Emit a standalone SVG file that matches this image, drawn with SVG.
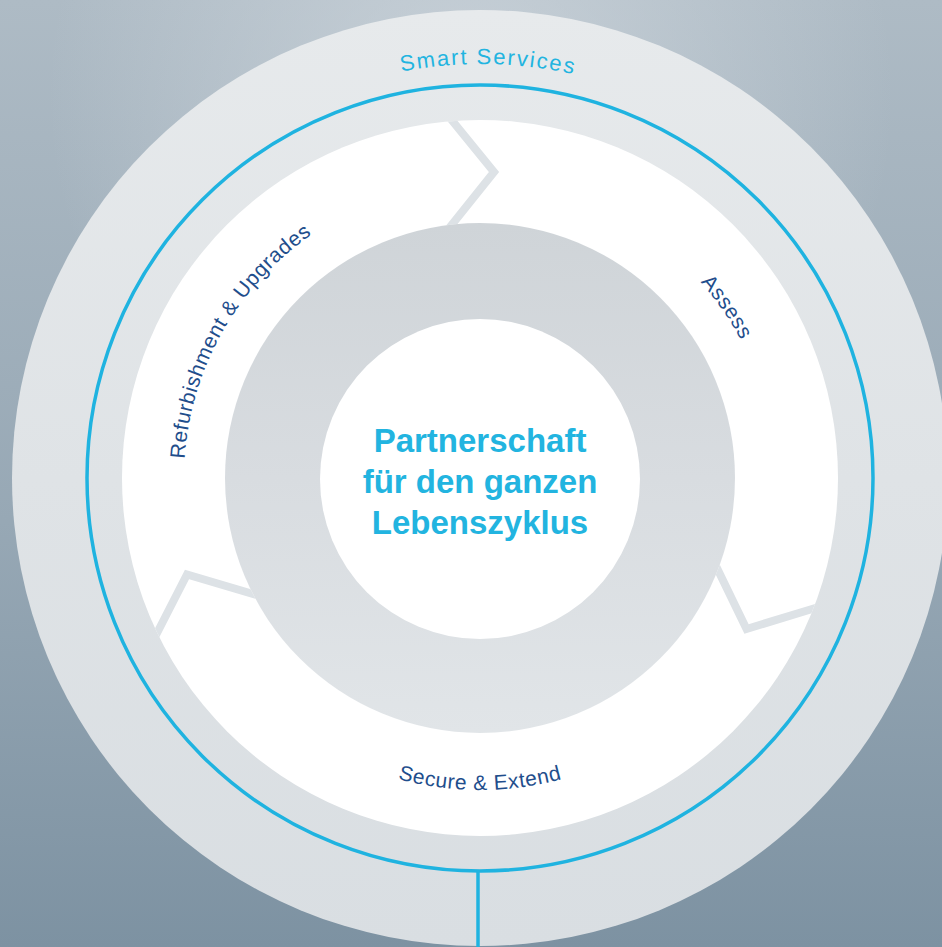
<svg xmlns="http://www.w3.org/2000/svg" width="942" height="947" viewBox="0 0 942 947">
  <defs>
    <linearGradient id="bg" x1="0" y1="0" x2="0" y2="1">
      <stop offset="0" stop-color="#aebbc5"/>
      <stop offset="0.55" stop-color="#97a8b5"/>
      <stop offset="1" stop-color="#7d92a2"/>
    </linearGradient>
    <radialGradient id="bgGlow" cx="0.5" cy="0.1" r="0.45">
      <stop offset="0" stop-color="#d3dae0" stop-opacity="0.7"/>
      <stop offset="1" stop-color="#d3dae0" stop-opacity="0"/>
    </radialGradient>
    <linearGradient id="outerDisc" x1="0" y1="0" x2="0" y2="1">
      <stop offset="0" stop-color="#e7eaec"/>
      <stop offset="0.5" stop-color="#dfe3e6"/>
      <stop offset="1" stop-color="#d9dee2"/>
    </linearGradient>
    <linearGradient id="innerRing" x1="0" y1="0" x2="0" y2="1">
      <stop offset="0" stop-color="#cfd4d8"/>
      <stop offset="0.5" stop-color="#d8dce0"/>
      <stop offset="1" stop-color="#e1e5e8"/>
    </linearGradient>
    <clipPath id="ringClip">
      <path clip-rule="evenodd" d="M122,478 A358,358 0 1 0 838,478 A358,358 0 1 0 122,478 Z M225,478 A255,255 0 1 0 735,478 A255,255 0 1 0 225,478 Z"/>
    </clipPath>
    <path id="arcSmart" d="M125.5,264 A416,416 0 0 1 843.8,276.3"/>
    <path id="arcRefurb" d="M224.7,627.8 A296,296 0 0 1 477.9,182"/>
    <path id="arcAssess" d="M455.8,184 A295,295 0 0 1 746.7,604.1"/>
    <path id="arcSecure" d="M209.8,634 A312,312 0 0 0 750.2,634"/>
    <style>
      .phase { font-family: "Liberation Sans", Arial, sans-serif; font-size: 21px; fill: #1f4e8c; letter-spacing: 0.6px; }
      .title { font-family: "Liberation Sans", Arial, sans-serif; font-size: 33px; font-weight: bold; fill: #22b4e0; text-anchor: middle; }
      .service { font-family: "Liberation Sans", Arial, sans-serif; font-size: 22px; fill: #22b4e0; letter-spacing: 1.8px; }
      .chevron { fill: none; stroke: #dde2e6; stroke-width: 8; stroke-linejoin: miter; }
      .blue { fill: none; stroke: #1fb3e0; stroke-width: 3.5; }
    </style>
  </defs>

  <rect width="942" height="947" fill="url(#bg)"/>
  <rect width="942" height="947" fill="url(#bgGlow)"/>

  <g id="smart-services">
    <circle cx="480" cy="478" r="468" fill="url(#outerDisc)"/>
    <circle class="blue" cx="480" cy="478" r="393"/>
    <line class="blue" x1="478" y1="871" x2="478" y2="947" stroke-width="4"/>
    <text class="service"><textPath href="#arcSmart" startOffset="50%" text-anchor="middle">Smart Services</textPath></text>
  </g>

  <g id="cycle-ring">
    <circle cx="480" cy="478" r="358" fill="#ffffff"/>
  </g>

  <g id="connectors" clip-path="url(#ringClip)">
    <polyline class="chevron" points="450,118 494,172 446,232"/>
    <polyline class="chevron" points="716,566 746.5,629 822,606"/>
    <polyline class="chevron" points="260,596 187,574.5 155,637"/>
  </g>

  <g id="inner-ring">
    <circle cx="480" cy="478" r="255" fill="url(#innerRing)"/>
  </g>

  <g id="refurbishment">
    <text class="phase" letter-spacing="0.5"><textPath href="#arcRefurb" startOffset="50%" text-anchor="middle">Refurbishment &amp; Upgrades</textPath></text>
  </g>
  <g id="assess">
    <text class="phase"><textPath href="#arcAssess" startOffset="50%" text-anchor="middle">Assess</textPath></text>
  </g>
  <g id="secure-extend">
    <text class="phase" letter-spacing="1.1"><textPath href="#arcSecure" startOffset="50%" text-anchor="middle">Secure &amp; Extend</textPath></text>
  </g>

  <g id="center">
    <circle cx="480" cy="479" r="160" fill="#ffffff"/>
    <text class="title" x="480" y="452">Partnerschaft</text>
    <text class="title" x="480" y="493">für den ganzen</text>
    <text class="title" x="480" y="534">Lebenszyklus</text>
  </g>
</svg>
